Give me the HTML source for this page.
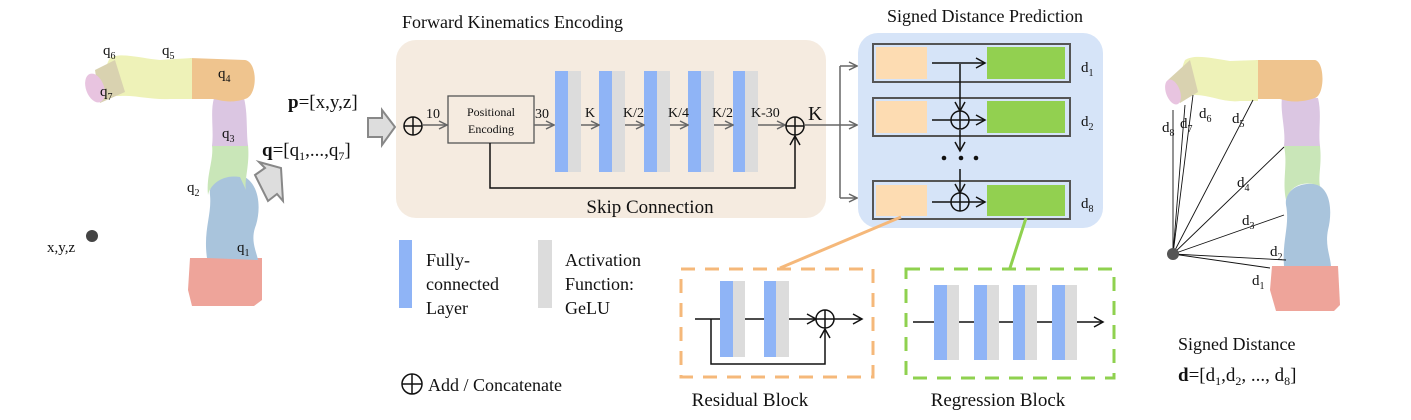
<!DOCTYPE html>
<html><head><meta charset="utf-8"><style>
body{margin:0;background:#fff;}
svg text{font-family:"Liberation Serif",serif;fill:#111;}
</style></head><body>
<svg width="1411" height="415" viewBox="0 0 1411 415" xmlns="http://www.w3.org/2000/svg">
<defs>
<marker id="ag" markerWidth="10" markerHeight="10" refX="9" refY="5" orient="auto" markerUnits="userSpaceOnUse"><path d="M1,1 L9,5 L1,9" fill="none" stroke="#666" stroke-width="1.5"/></marker>
<marker id="ak" markerWidth="12" markerHeight="12" refX="10" refY="6" orient="auto" markerUnits="userSpaceOnUse"><path d="M1,1 L10,6 L1,11" fill="none" stroke="#111" stroke-width="1.5"/></marker>
</defs>

<!-- Left robot -->
<g>
<path d="M190,258 L262,258 L262,300 L254,306 L192,306 L188,290 Z" fill="#eea49a"/>
<path d="M207,258 C203,230 212,215 210,195 C208,180 225,172 240,175 C258,180 262,205 256,225 C250,240 256,250 258,260 Z" fill="#a9c4dc"/>
<path d="M212,145 L248,145 C250,165 244,180 246,190 L240,177 C222,174 210,185 208,195 C206,175 214,160 212,145 Z" fill="#c9e6b8"/>
<path d="M214,98 L244,98 C248,115 246,130 248,146 L212,146 C214,130 210,112 214,98 Z" fill="#dbc6e2"/>
<path d="M190,58 L245,60 C258,62 258,96 245,99 C230,104 220,100 213,99 L190,99 Z" fill="#efc48e"/>
<path d="M110,58 C120,52 140,58 160,60 L192,58 L192,99 L170,99 C150,100 135,95 120,96 C105,97 100,75 110,58 Z" fill="#eef2b8"/>
<path d="M95,70 L115,60 L125,92 L100,103 Z" fill="#d9d2b0"/>
<ellipse cx="95" cy="88" rx="9" ry="15" fill="#e8c4e0" transform="rotate(-20 95 88)"/>
<circle cx="92" cy="236" r="6" fill="#444"/>
</g>
<text x="103" y="55" font-size="15">q<tspan font-size="10" dy="4">6</tspan></text>
<text x="162" y="55" font-size="15">q<tspan font-size="10" dy="4">5</tspan></text>
<text x="218" y="78" font-size="15">q<tspan font-size="10" dy="4">4</tspan></text>
<text x="100" y="96" font-size="15">q<tspan font-size="10" dy="4">7</tspan></text>
<text x="222" y="138" font-size="15">q<tspan font-size="10" dy="4">3</tspan></text>
<text x="187" y="192" font-size="15">q<tspan font-size="10" dy="4">2</tspan></text>
<text x="237" y="252" font-size="15">q<tspan font-size="10" dy="4">1</tspan></text>
<text x="47" y="252" font-size="15">x,y,z</text>

<text x="288" y="108" font-size="19"><tspan font-weight="bold">p</tspan>=[x,y,z]</text>
<text x="262" y="156" font-size="19"><tspan font-weight="bold">q</tspan>=[q<tspan font-size="12" dy="4">1</tspan><tspan dy="-4">,...,q</tspan><tspan font-size="12" dy="4">7</tspan><tspan dy="-4">]</tspan></text>
<path d="M368,118 L382,118 L382,110 L395,127 L382,145 L382,137 L368,137 Z" fill="#ddd" stroke="#888" stroke-width="2"/>
<path d="M255,175 L265,168 L259,162 L281,168 L283,201 L277,194 L268,201 Z" fill="#ddd" stroke="#888" stroke-width="2"/>

<!-- Forward kinematics -->
<text x="402" y="28" font-size="18">Forward Kinematics Encoding</text>
<rect x="396" y="40" width="430" height="178" rx="20" fill="#f5ebe0"/>
<circle cx="413" cy="126" r="9" fill="none" stroke="#111" stroke-width="1.5"/>
<line x1="404" y1="126" x2="422" y2="126" stroke="#111" stroke-width="1.5"/><line x1="413" y1="117" x2="413" y2="135" stroke="#111" stroke-width="1.5"/>
<text x="426" y="118" font-size="14">10</text>
<line x1="423" y1="125" x2="447" y2="125" stroke="#666" stroke-width="1.5" marker-end="url(#ag)"/>
<rect x="448" y="96" width="86" height="47" fill="none" stroke="#555" stroke-width="1.3"/>
<text x="491" y="116" font-size="12" text-anchor="middle">Positional</text>
<text x="491" y="133" font-size="12" text-anchor="middle">Encoding</text>
<text x="535" y="118" font-size="14">30</text>
<line x1="534" y1="125" x2="554" y2="125" stroke="#666" stroke-width="1.5" marker-end="url(#ag)"/>
<g>
<rect x="555" y="71" width="13" height="101" fill="#8fb4f6"/><rect x="568" y="71" width="13" height="101" fill="#dcdcdc"/>
<rect x="599" y="71" width="13" height="101" fill="#8fb4f6"/><rect x="612" y="71" width="13" height="101" fill="#dcdcdc"/>
<rect x="644" y="71" width="13" height="101" fill="#8fb4f6"/><rect x="657" y="71" width="13" height="101" fill="#dcdcdc"/>
<rect x="688" y="71" width="13" height="101" fill="#8fb4f6"/><rect x="701" y="71" width="13" height="101" fill="#dcdcdc"/>
<rect x="733" y="71" width="12" height="101" fill="#8fb4f6"/><rect x="745" y="71" width="13" height="101" fill="#dcdcdc"/>
</g>
<g stroke="#666" stroke-width="1.5">
<line x1="581" y1="125" x2="599" y2="125" marker-end="url(#ag)"/>
<line x1="625" y1="125" x2="644" y2="125" marker-end="url(#ag)"/>
<line x1="670" y1="125" x2="688" y2="125" marker-end="url(#ag)"/>
<line x1="714" y1="125" x2="733" y2="125" marker-end="url(#ag)"/>
<line x1="758" y1="125" x2="785" y2="125" marker-end="url(#ag)"/>
</g>
<text x="585" y="117" font-size="14">K</text>
<text x="623" y="117" font-size="14">K/2</text>
<text x="668" y="117" font-size="14">K/4</text>
<text x="712" y="117" font-size="14">K/2</text>
<text x="751" y="117" font-size="14">K-30</text>
<circle cx="795" cy="126" r="9" fill="none" stroke="#111" stroke-width="1.5"/>
<line x1="786" y1="126" x2="804" y2="126" stroke="#111" stroke-width="1.5"/><line x1="795" y1="117" x2="795" y2="135" stroke="#111" stroke-width="1.5"/>
<polyline points="490,143 490,188 795,188 795,136" fill="none" stroke="#111" stroke-width="1.5" marker-end="url(#ak)"/>
<text x="808" y="120" font-size="20">K</text>
<text x="650" y="213" font-size="19" text-anchor="middle">Skip Connection</text>
<g stroke="#666" stroke-width="1.5" fill="none">
<line x1="805" y1="125" x2="840" y2="125"/>
<line x1="840" y1="66" x2="840" y2="198"/>
<line x1="840" y1="66" x2="857" y2="66" marker-end="url(#ag)"/>
<line x1="840" y1="125" x2="857" y2="125" marker-end="url(#ag)"/>
<line x1="840" y1="198" x2="857" y2="198" marker-end="url(#ag)"/>
</g>

<!-- Signed distance prediction -->
<text x="985" y="22" font-size="18" text-anchor="middle">Signed Distance Prediction</text>
<rect x="858" y="33" width="245" height="195" rx="20" fill="#d6e4f8"/>
<g stroke="#555" stroke-width="2" fill="none">
<rect x="873" y="44" width="197" height="38"/>
<rect x="873" y="98" width="197" height="38"/>
<rect x="873" y="181" width="197" height="38"/>
</g>
<g>
<rect x="876" y="47" width="51" height="32" fill="#fddcb2"/><rect x="987" y="47" width="78" height="32" fill="#92d050"/>
<rect x="876" y="101" width="51" height="32" fill="#fddcb2"/><rect x="987" y="101" width="78" height="32" fill="#92d050"/>
<rect x="876" y="185" width="51" height="31" fill="#fddcb2"/><rect x="987" y="185" width="78" height="31" fill="#92d050"/>
</g>
<g stroke="#111" stroke-width="1.5" fill="none">
<line x1="932" y1="63" x2="985" y2="63" marker-end="url(#ak)"/>
<line x1="932" y1="120" x2="985" y2="120" marker-end="url(#ak)"/>
<line x1="932" y1="202" x2="985" y2="202" marker-end="url(#ak)"/>
<line x1="960" y1="64" x2="960" y2="111" marker-end="url(#ak)"/>
<line x1="960" y1="130" x2="960" y2="151" marker-end="url(#ak)"/>
<line x1="960" y1="169" x2="960" y2="193" marker-end="url(#ak)"/>
<circle cx="960" cy="120" r="9"/><line x1="960" y1="111" x2="960" y2="129"/>
<circle cx="960" cy="202" r="9"/><line x1="960" y1="193" x2="960" y2="211"/>
</g>
<circle cx="944" cy="158" r="2.3" fill="#111"/><circle cx="961" cy="158" r="2.3" fill="#111"/><circle cx="976" cy="158" r="2.3" fill="#111"/>
<text x="1081" y="72" font-size="15">d<tspan font-size="10" dy="4">1</tspan></text>
<text x="1081" y="126" font-size="15">d<tspan font-size="10" dy="4">2</tspan></text>
<text x="1081" y="208" font-size="15">d<tspan font-size="10" dy="4">8</tspan></text>
<line x1="901" y1="217" x2="780" y2="268" stroke="#f5b87a" stroke-width="3"/>
<line x1="1026" y1="218" x2="1010" y2="268" stroke="#8fd14f" stroke-width="3"/>

<!-- Residual block -->
<rect x="681" y="269" width="192" height="108" fill="none" stroke="#f5b87a" stroke-width="3" stroke-dasharray="14,10"/>
<rect x="720" y="281" width="13" height="76" fill="#8fb4f6"/><rect x="733" y="281" width="12" height="76" fill="#dcdcdc"/>
<rect x="764" y="281" width="12" height="76" fill="#8fb4f6"/><rect x="776" y="281" width="13" height="76" fill="#dcdcdc"/>
<g stroke="#111" stroke-width="1.5" fill="none">
<line x1="695" y1="319" x2="720" y2="319"/><line x1="745" y1="319" x2="764" y2="319"/>
<line x1="789" y1="319" x2="816" y2="319" marker-end="url(#ak)"/>
<circle cx="825" cy="319" r="9"/><line x1="816" y1="319" x2="834" y2="319"/><line x1="825" y1="310" x2="825" y2="328"/>
<line x1="834" y1="319" x2="862" y2="319" marker-end="url(#ak)"/>
<polyline points="711,319 711,364 825,364 825,329" marker-end="url(#ak)"/>
</g>
<text x="750" y="406" font-size="19" text-anchor="middle">Residual Block</text>

<!-- Regression block -->
<rect x="906" y="269" width="208" height="109" fill="none" stroke="#8fd14f" stroke-width="3" stroke-dasharray="14,10"/>
<line x1="913" y1="322" x2="1103" y2="322" stroke="#111" stroke-width="1.5" marker-end="url(#ak)"/>
<rect x="934" y="285" width="13" height="75" fill="#8fb4f6"/><rect x="947" y="285" width="12" height="75" fill="#dcdcdc"/>
<rect x="974" y="285" width="13" height="75" fill="#8fb4f6"/><rect x="987" y="285" width="12" height="75" fill="#dcdcdc"/>
<rect x="1013" y="285" width="12" height="75" fill="#8fb4f6"/><rect x="1025" y="285" width="12" height="75" fill="#dcdcdc"/>
<rect x="1052" y="285" width="13" height="75" fill="#8fb4f6"/><rect x="1065" y="285" width="12" height="75" fill="#dcdcdc"/>
<text x="998" y="406" font-size="19" text-anchor="middle">Regression Block</text>

<!-- Legend -->
<rect x="399" y="240" width="13" height="68" fill="#8fb4f6"/>
<text x="426" y="266" font-size="18">Fully-</text>
<text x="426" y="290" font-size="18">connected</text>
<text x="426" y="314" font-size="18">Layer</text>
<rect x="538" y="240" width="14" height="68" fill="#dcdcdc"/>
<text x="565" y="266" font-size="18">Activation</text>
<text x="565" y="290" font-size="18">Function:</text>
<text x="565" y="314" font-size="18">GeLU</text>
<g stroke="#111" stroke-width="1.5" fill="none"><circle cx="412" cy="384" r="10"/><line x1="402" y1="384" x2="422" y2="384"/><line x1="412" y1="374" x2="412" y2="394"/></g>
<text x="428" y="391" font-size="18">Add / Concatenate</text>

<!-- Right robot -->
<g>
<path d="M1272,266 L1338,266 L1340,305 L1334,311 L1276,311 L1270,290 Z" fill="#eea49a"/>
<path d="M1284,266 C1282,240 1290,225 1286,205 C1284,190 1300,182 1315,184 C1330,188 1333,210 1328,230 C1325,245 1330,255 1331,266 Z" fill="#a9c4dc"/>
<path d="M1284,146 L1320,146 C1322,165 1318,175 1320,186 C1305,180 1290,185 1286,200 C1282,180 1288,165 1284,146 Z" fill="#c9e6b8"/>
<path d="M1282,98 L1318,98 C1322,115 1318,130 1320,146 L1284,146 C1286,130 1280,112 1282,98 Z" fill="#dbc6e2"/>
<path d="M1256,60 L1315,60 C1325,62 1325,95 1315,98 C1300,103 1290,102 1280,99 L1256,99 Z" fill="#efc48e"/>
<path d="M1185,60 C1195,54 1210,58 1230,61 L1258,60 L1258,101 L1240,101 C1225,103 1210,95 1195,95 C1180,96 1178,75 1185,60 Z" fill="#eef2b8"/>
<path d="M1168,80 L1190,60 L1198,92 L1180,103 Z" fill="#d9d2b0"/>
<ellipse cx="1173" cy="92" rx="7" ry="13" fill="#e8c4e0" transform="rotate(-20 1173 92)"/>
</g>
<g stroke="#111" stroke-width="0.9">
<line x1="1173" y1="254" x2="1173" y2="110"/>
<line x1="1173" y1="254" x2="1185" y2="105"/>
<line x1="1173" y1="254" x2="1193" y2="95"/>
<line x1="1173" y1="254" x2="1253" y2="100"/>
<line x1="1173" y1="254" x2="1284" y2="147"/>
<line x1="1173" y1="254" x2="1284" y2="215"/>
<line x1="1173" y1="254" x2="1286" y2="260"/>
<line x1="1173" y1="254" x2="1270" y2="268"/>
</g>
<circle cx="1173" cy="254" r="6" fill="#555"/>
<text x="1162" y="132" font-size="15">d<tspan font-size="10" dy="4">8</tspan></text>
<text x="1180" y="128" font-size="15">d<tspan font-size="10" dy="4">7</tspan></text>
<text x="1199" y="118" font-size="15">d<tspan font-size="10" dy="4">6</tspan></text>
<text x="1232" y="123" font-size="15">d<tspan font-size="10" dy="4">5</tspan></text>
<text x="1237" y="187" font-size="15">d<tspan font-size="10" dy="4">4</tspan></text>
<text x="1242" y="225" font-size="15">d<tspan font-size="10" dy="4">3</tspan></text>
<text x="1270" y="256" font-size="15">d<tspan font-size="10" dy="4">2</tspan></text>
<text x="1252" y="285" font-size="15">d<tspan font-size="10" dy="4">1</tspan></text>
<text x="1178" y="350" font-size="18">Signed Distance</text>
<text x="1178" y="381" font-size="19"><tspan font-weight="bold">d</tspan>=[d<tspan font-size="12" dy="4">1</tspan><tspan dy="-4">,d</tspan><tspan font-size="12" dy="4">2</tspan><tspan dy="-4">, ..., d</tspan><tspan font-size="12" dy="4">8</tspan><tspan dy="-4">]</tspan></text>
</svg>
</body></html>
